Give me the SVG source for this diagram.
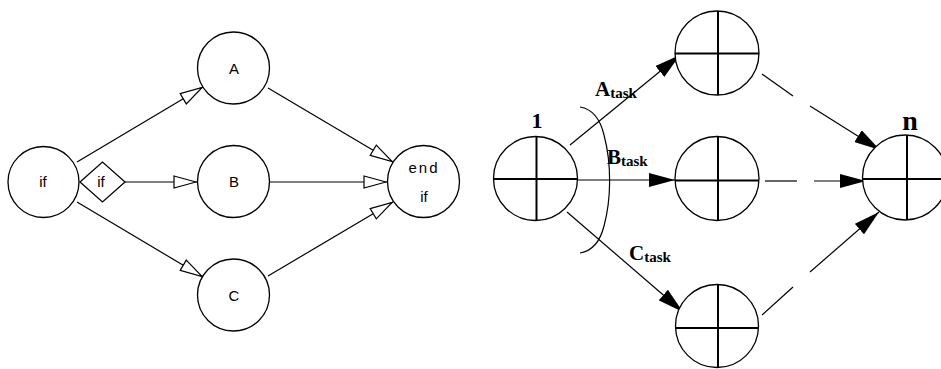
<svg xmlns="http://www.w3.org/2000/svg" width="941" height="369" viewBox="0 0 941 369">
<style>
.c{fill:#fff;stroke:#000;stroke-width:1.3}
.l{stroke:#000;stroke-width:1.2;fill:none}
.x{stroke:#000;stroke-width:2;fill:none}
.s{font-family:"Liberation Sans",Arial,sans-serif;font-size:15px;text-anchor:middle;fill:#000}
.t{font-family:"Liberation Serif","Times New Roman",serif;font-weight:bold;fill:#000}
</style>
<defs>
<marker id="open" viewBox="0 0 24 14" refX="24" refY="7" markerWidth="24" markerHeight="14" markerUnits="userSpaceOnUse" orient="auto">
<path d="M1,1 L23,7 L1,13 Z" fill="#fff" stroke="#000" stroke-width="1.2"/>
</marker>
<marker id="fill" viewBox="0 0 26 14" refX="26" refY="7" markerWidth="26" markerHeight="14" markerUnits="userSpaceOnUse" orient="auto">
<path d="M0,0 L26,7 L0,14 Z" fill="#000"/>
</marker>
</defs>
<g id="connectors">
<line class="l" x1="77" y1="162" x2="203" y2="87" marker-end="url(#open)"/>
<line class="l" x1="77" y1="202" x2="203" y2="277" marker-end="url(#open)"/>
<line class="l" x1="125" y1="182" x2="197" y2="182" marker-end="url(#open)"/>
<line class="l" x1="268" y1="88" x2="393" y2="162" marker-end="url(#open)"/>
<line class="l" x1="270" y1="182" x2="387" y2="182" marker-end="url(#open)"/>
<line class="l" x1="268" y1="276" x2="393" y2="202" marker-end="url(#open)"/>
<line class="l" x1="570" y1="145" x2="680" y2="55" marker-end="url(#fill)"/>
<line class="l" x1="578" y1="180" x2="675" y2="180" marker-end="url(#fill)"/>
<line class="l" x1="567" y1="212" x2="683" y2="312" marker-end="url(#fill)"/>
<line class="l" x1="762" y1="74" x2="793" y2="96"/>
<line class="l" x1="810" y1="106" x2="880" y2="150" marker-end="url(#fill)"/>
<line class="l" x1="765" y1="181" x2="797" y2="181"/>
<line class="l" x1="814" y1="181" x2="866" y2="181" marker-end="url(#fill)"/>
<line class="l" x1="762" y1="315" x2="793" y2="287"/>
<line class="l" x1="810" y1="272" x2="879" y2="212" marker-end="url(#fill)"/>
<path class="l" d="M580,107 C592,109 600,118 604,135 C612,165 611,200 604,226 C600,242 592,251 580,253"/>
</g>
<g id="if"><circle class="c" cx="43.5" cy="182" r="35.5"/><text class="s" x="43" y="187">if</text></g>
<g id="ifdiamond"><path class="c" d="M80,182 L102.5,162 L125,182 L102.5,202 Z"/><text class="s" x="101" y="187">if</text></g>
<g id="A"><circle class="c" cx="233.5" cy="68" r="36"/><text class="s" x="234" y="74">A</text></g>
<g id="B"><circle class="c" cx="233.5" cy="181.5" r="36"/><text class="s" x="234" y="187">B</text></g>
<g id="C"><circle class="c" cx="233.5" cy="295" r="36"/><text class="s" x="234" y="301">C</text></g>
<g id="endif"><circle class="c" cx="423.5" cy="181.5" r="36"/><text class="s" x="424" y="173" letter-spacing="2">end</text><text class="s" x="424" y="202">if</text></g>
<g id="n1"><circle class="c" cx="535.5" cy="178.5" r="42"/><line class="x" x1="493.5" y1="179" x2="577.5" y2="179"/><line class="x" x1="536.5" y1="136.5" x2="536.5" y2="220.5"/><text class="t" x="537" y="128" font-size="22" text-anchor="middle">1</text></g>
<g id="top"><circle class="c" cx="717" cy="53" r="42"/><line class="x" x1="675" y1="53.5" x2="759" y2="53.5"/><line class="x" x1="718" y1="11" x2="718" y2="95"/></g>
<g id="mid"><circle class="c" cx="717" cy="178.5" r="42"/><line class="x" x1="675" y1="180.5" x2="759" y2="180.5"/><line class="x" x1="718" y1="136.5" x2="718" y2="220.5"/></g>
<g id="bottom"><circle class="c" cx="717" cy="326" r="41.5"/><line class="x" x1="675.5" y1="328" x2="758.5" y2="328"/><line class="x" x1="718" y1="284.5" x2="718" y2="367.5"/></g>
<g id="nn"><circle class="c" cx="905" cy="177.5" r="42.5"/><line class="x" x1="862.5" y1="179" x2="947" y2="179"/><line class="x" x1="907" y1="135" x2="907" y2="220"/><text class="t" x="910" y="130" font-size="28" text-anchor="middle">n</text></g>
<g id="labels">
<text class="t" x="595" y="96" font-size="21">A<tspan font-size="15" dy="2">task</tspan></text>
<text class="t" x="607" y="164" font-size="21">B<tspan font-size="15" dy="2">task</tspan></text>
<text class="t" x="629" y="260" font-size="21">C<tspan font-size="15" dy="2">task</tspan></text>
</g>
</svg>
